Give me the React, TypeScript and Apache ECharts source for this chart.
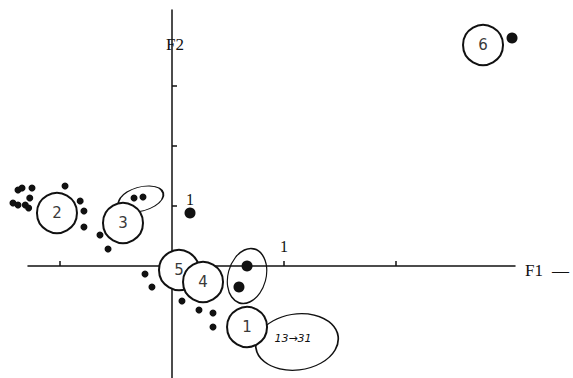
import React, { useEffect, useRef } from "react";
import * as echarts from "echarts";

// Group circles (F1, F2 coordinates) and their numbers
const circleNames = ["2", "3", "5", "4", "1", "6"];
const circleF1 = [-1.027, -0.4375, 0.0625, 0.277, 0.67, 2.777];
const circleF2 = [0.883, 0.717, -0.067, -0.267, -1.017, 3.683];

// Small individual points
const smallF1 = [-1.375, -1.339, -1.25, -1.42, -1.375, -1.31, -1.27, -1.28, -0.955, -0.82, -0.786, -0.786, -0.643, -0.571, -0.339, -0.259, -0.241, -0.179, 0.089, 0.241, 0.366, 0.366];
const smallF2 = [1.267, 1.3, 1.3, 1.05, 1.017, 1.017, 1.133, 0.967, 1.333, 1.083, 0.917, 0.65, 0.517, 0.283, 1.133, 1.15, -0.133, -0.35, -0.583, -0.733, -0.783, -1.017];

// Large individual points
const largeF1 = [0.161, 0.67, 0.598, 3.036];
const largeF2 = [0.883, 0, -0.35, 3.8];

// Enclosing ellipses
const ellipseF1 = [-0.277, 0.67, 1.116];
const ellipseF2 = [1.117, -0.167, -1.267];
const ellipseLabels = ["", "", "13→31"];

// Axis ticks and unit labels
const xTicks = [-1, 1, 2];
const yTicks = [1, 2, 3];
const unitLabelF1 = [1, 0];
const unitLabelF2 = [0, 1];

const INK = "#111111";
const ellipseSizes = [[46, 24], [38, 56], [83, 56]];
const ellipseRotations = [15, -15, 8];

export default function App() {
  const ref = useRef<HTMLDivElement>(null);
  useEffect(() => {
    if (!ref.current) return;
    const chart = echarts.init(ref.current, undefined, { renderer: "svg" });
    const serif = "Liberation Serif";
    const option: any = {
      animation: false,
      backgroundColor: "#ffffff",
      grid: { left: 28, right: 58, top: 10, bottom: 0 },
      xAxis: {
        type: "value",
        min: -1.2857,
        max: 3.0625,
        axisLine: { onZero: true, lineStyle: { color: INK, width: 1.5 } },
        axisTick: { show: true, inside: true, length: 5, customValues: xTicks, lineStyle: { color: INK, width: 1.5 } },
        axisLabel: { show: false },
        splitLine: { show: false },
        name: "{a|F1}{b|—}",
        nameLocation: "end",
        nameGap: 10,
        nameTextStyle: {
          padding: [9, 0, 0, 0],
          rich: {
            a: { fontFamily: serif, fontSize: 17, color: INK },
            b: { fontFamily: serif, fontSize: 17, color: INK, padding: [0, 0, 0, 9] },
          },
        },
      },
      yAxis: {
        type: "value",
        min: -1.8667,
        max: 4.2667,
        axisLine: { onZero: true, lineStyle: { color: INK, width: 1.5 } },
        axisTick: { show: true, inside: true, length: 5, customValues: yTicks, lineStyle: { color: INK, width: 1.5 } },
        axisLabel: { show: false },
        splitLine: { show: false },
        name: "F2",
        nameLocation: "end",
        nameGap: -45,
        nameTextStyle: {
          fontFamily: serif,
          fontSize: 17,
          color: INK,
          backgroundColor: "#ffffff",
          padding: [4, 0, 2, 6],
        },
      },
      series: [
        {
          type: "scatter",
          clip: false,
          silent: true,
          data: ellipseF1.map((x, i) => ({
            value: [x, ellipseF2[i]],
            name: ellipseLabels[i],
            symbolSize: ellipseSizes[i],
            symbolRotate: ellipseRotations[i],
          })),
          symbol: "circle",
          itemStyle: { color: "rgba(255,255,255,0)", borderColor: INK, borderWidth: 1.4, opacity: 1 },
          label: {
            show: true,
            position: "inside",
            formatter: "{b}",
            offset: [-4, -4],
            fontFamily: "DejaVu Sans",
            fontStyle: "italic",
            fontSize: 11,
            color: INK,
          },
          z: 3,
        },
        {
          type: "scatter",
          clip: false,
          silent: true,
          data: circleF1.map((x, i) => ({ value: [x, circleF2[i]], name: circleNames[i] })),
          symbol: "circle",
          symbolSize: 40,
          itemStyle: { color: "#ffffff", borderColor: INK, borderWidth: 2, opacity: 1 },
          label: {
            show: true,
            position: "inside",
            formatter: "{b}",
            fontFamily: "DejaVu Sans",
            fontSize: 15,
            color: "#3a3a3a",
          },
          z: 4,
        },
        {
          type: "scatter",
          clip: false,
          silent: true,
          data: smallF1.map((x, i) => [x, smallF2[i]]),
          symbol: "circle",
          symbolSize: 7,
          itemStyle: { color: INK, opacity: 1 },
          z: 5,
        },
        {
          type: "scatter",
          clip: false,
          silent: true,
          data: largeF1.map((x, i) => [x, largeF2[i]]),
          symbol: "circle",
          symbolSize: 11,
          itemStyle: { color: INK, opacity: 1 },
          z: 5,
        },
        {
          type: "scatter",
          clip: false,
          silent: true,
          symbol: "circle",
          symbolSize: 1,
          itemStyle: { color: "rgba(0,0,0,0)", opacity: 1 },
          data: [
            { value: unitLabelF1, label: { offset: [0, -19] } },
            { value: unitLabelF2, label: { offset: [18, -6] } },
          ],
          label: {
            show: true,
            position: "inside",
            formatter: "1",
            fontFamily: serif,
            fontSize: 16,
            color: INK,
          },
          z: 5,
        },
      ],
    };
    chart.setOption(option);
    return () => chart.dispose();
  }, []);
  return (
    <div
      ref={ref}
      style={{ position: "absolute", left: 0, top: 0, width: 573, height: 378, background: "#fff" }}
    />
  );
}
